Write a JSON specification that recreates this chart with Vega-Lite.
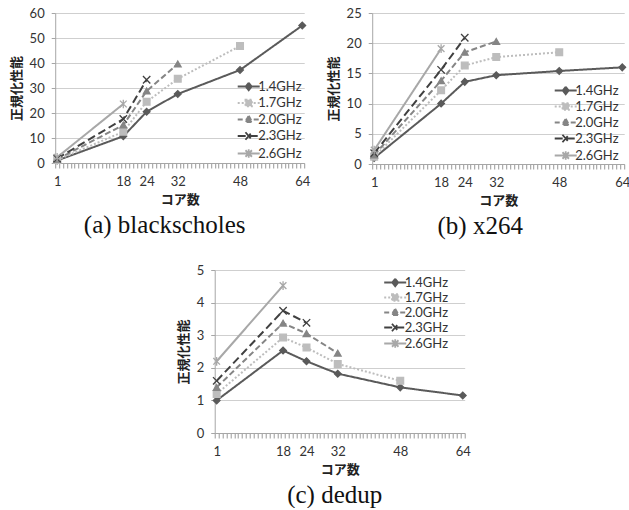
{
  "$schema": "https://vega.github.io/schema/vega-lite/v6.json",
  "padding": {"left": 10, "top": 7, "right": 0, "bottom": 0},
  "background": "white",
  "spacing": 25,
  "center": true,
  "config": {
    "view": {"stroke": null},
    "concat": {"spacing": 16},
    "axis": {
      "labelFont": "Lato", "labelFontSize": 13, "labelColor": "#333333",
      "titleFont": "Noto Sans CJK JP", "titleFontSize": 13, "titleFontWeight": "bold", "titleColor": "#222222",
      "domainColor": "#a6a6a6", "tickColor": "#a6a6a6", "gridColor": "#cfcfcf"
    },
    "title": {"font": "Liberation Serif", "fontSize": 25, "fontWeight": "normal", "color": "#111111"}
  },
  "datasets": {
    "bs": [
      {"freq": "1.4GHz", "cores": 1, "perf": 1.0}, {"freq": "1.4GHz", "cores": 18, "perf": 10.7}, {"freq": "1.4GHz", "cores": 24, "perf": 20.5}, {"freq": "1.4GHz", "cores": 32, "perf": 27.6}, {"freq": "1.4GHz", "cores": 48, "perf": 37.2}, {"freq": "1.4GHz", "cores": 64, "perf": 55.0},
      {"freq": "1.7GHz", "cores": 1, "perf": 1.2}, {"freq": "1.7GHz", "cores": 18, "perf": 12.5}, {"freq": "1.7GHz", "cores": 24, "perf": 24.5}, {"freq": "1.7GHz", "cores": 32, "perf": 33.7}, {"freq": "1.7GHz", "cores": 48, "perf": 46.8},
      {"freq": "2.0GHz", "cores": 1, "perf": 1.5}, {"freq": "2.0GHz", "cores": 18, "perf": 15.2}, {"freq": "2.0GHz", "cores": 24, "perf": 28.8}, {"freq": "2.0GHz", "cores": 32, "perf": 39.6},
      {"freq": "2.3GHz", "cores": 1, "perf": 1.8}, {"freq": "2.3GHz", "cores": 18, "perf": 17.6}, {"freq": "2.3GHz", "cores": 24, "perf": 33.3},
      {"freq": "2.6GHz", "cores": 1, "perf": 2.3}, {"freq": "2.6GHz", "cores": 18, "perf": 23.6}
    ],
    "x264": [
      {"freq": "1.4GHz", "cores": 1, "perf": 1.0}, {"freq": "1.4GHz", "cores": 18, "perf": 10.0}, {"freq": "1.4GHz", "cores": 24, "perf": 13.6}, {"freq": "1.4GHz", "cores": 32, "perf": 14.7}, {"freq": "1.4GHz", "cores": 48, "perf": 15.4}, {"freq": "1.4GHz", "cores": 64, "perf": 16.0},
      {"freq": "1.7GHz", "cores": 1, "perf": 1.2}, {"freq": "1.7GHz", "cores": 18, "perf": 12.2}, {"freq": "1.7GHz", "cores": 24, "perf": 16.3}, {"freq": "1.7GHz", "cores": 32, "perf": 17.7}, {"freq": "1.7GHz", "cores": 48, "perf": 18.5},
      {"freq": "2.0GHz", "cores": 1, "perf": 1.5}, {"freq": "2.0GHz", "cores": 18, "perf": 13.8}, {"freq": "2.0GHz", "cores": 24, "perf": 18.5}, {"freq": "2.0GHz", "cores": 32, "perf": 20.3},
      {"freq": "2.3GHz", "cores": 1, "perf": 1.8}, {"freq": "2.3GHz", "cores": 18, "perf": 15.6}, {"freq": "2.3GHz", "cores": 24, "perf": 20.9},
      {"freq": "2.6GHz", "cores": 1, "perf": 2.3}, {"freq": "2.6GHz", "cores": 18, "perf": 19.1}
    ],
    "dedup": [
      {"freq": "1.4GHz", "cores": 1, "perf": 1.0}, {"freq": "1.4GHz", "cores": 18, "perf": 2.53}, {"freq": "1.4GHz", "cores": 24, "perf": 2.2}, {"freq": "1.4GHz", "cores": 32, "perf": 1.82}, {"freq": "1.4GHz", "cores": 48, "perf": 1.4}, {"freq": "1.4GHz", "cores": 64, "perf": 1.15},
      {"freq": "1.7GHz", "cores": 1, "perf": 1.2}, {"freq": "1.7GHz", "cores": 18, "perf": 2.93}, {"freq": "1.7GHz", "cores": 24, "perf": 2.62}, {"freq": "1.7GHz", "cores": 32, "perf": 2.12}, {"freq": "1.7GHz", "cores": 48, "perf": 1.6},
      {"freq": "2.0GHz", "cores": 1, "perf": 1.4}, {"freq": "2.0GHz", "cores": 18, "perf": 3.37}, {"freq": "2.0GHz", "cores": 24, "perf": 3.05}, {"freq": "2.0GHz", "cores": 32, "perf": 2.45},
      {"freq": "2.3GHz", "cores": 1, "perf": 1.6}, {"freq": "2.3GHz", "cores": 18, "perf": 3.75}, {"freq": "2.3GHz", "cores": 24, "perf": 3.38},
      {"freq": "2.6GHz", "cores": 1, "perf": 2.2}, {"freq": "2.6GHz", "cores": 18, "perf": 4.52}
    ]
  },
  "resolve": {"legend": {"color": "independent"}},
  "vconcat": [
    {
      "hconcat": [
        {
          "width": 249, "height": 150,
          "data": {"name": "bs"},
          "title": {"text": "(a) blackscholes", "orient": "bottom", "anchor": "middle", "frame": "group", "dx": -15, "offset": 7},
          "encoding": {
            "y": {"field": "perf", "type": "quantitative", "scale": {"domain": [0, 60], "nice": false},
              "axis": {"title": "正規化性能", "values": [0,10,20,30,40,50,60], "tickSize": 4, "labelPadding": 7, "titlePadding": 6, "grid": true}},
            "color": {"field": "freq", "type": "nominal", "scale": {"domain": ["1.4GHz","1.7GHz","2.0GHz","2.3GHz","2.6GHz"], "range": ["#5a5a5a","#bdbdbd","#858585","#404040","#a8a8a8"]}, "legend": null}
          },
          "layer": [
            {
              "mark": {"type": "line", "strokeWidth": 2},
              "encoding": {
                "x": {"field": "cores", "type": "quantitative", "scale": {"domain": [0.5, 64.5], "nice": false, "zero": false},
                  "axis": {"orient": "bottom", "title": null, "labels": false, "grid": false, "ticks": true, "values": [0.5,1.5,2.5,3.5,4.5,5.5,6.5,7.5,8.5,9.5,10.5,11.5,12.5,13.5,14.5,15.5,16.5,17.5,18.5,19.5,20.5,21.5,22.5,23.5,24.5,25.5,26.5,27.5,28.5,29.5,30.5,31.5,32.5,33.5,34.5,35.5,36.5,37.5,38.5,39.5,40.5,41.5,42.5,43.5,44.5,45.5,46.5,47.5,48.5,49.5,50.5,51.5,52.5,53.5,54.5,55.5,56.5,57.5,58.5,59.5,60.5,61.5,62.5,63.5,64.5], "tickSize": 5, "tickWidth": 1, "tickColor": "#999999", "tickOpacity": 1, "domainColor": "#a6a6a6"}},
                "strokeDash": {"field": "freq", "type": "nominal", "scale": {"domain": ["1.4GHz","1.7GHz","2.0GHz","2.3GHz","2.6GHz"], "range": [[1,0],[2,2],[6,3],[8,4],[1,0]]}, "legend": null},
                "color": {"field": "freq", "type": "nominal", "legend": {"orient": "none", "legendX": 187, "legendY": 67, "title": null, "padding": 0, "rowPadding": 1.5, "symbolSize": 100, "symbolStrokeWidth": 1.8, "labelOffset": 3, "labelFont": "Lato", "labelFontSize": 13, "labelColor": "#333333",
                  "encode": {"symbols": {"update": {
                    "shape": {"signal": "datum.value==='1.4GHz'?'M-2.2,0L2.2,0M0,-0.75L0.6,0L0,0.75L-0.6,0Z':datum.value==='1.7GHz'?'M-2.2,0L2.2,0M-0.65,-0.65L0.65,-0.65L0.65,0.65L-0.65,0.65Z':datum.value==='2.0GHz'?'M-2.2,0L2.2,0M0,-0.75L0.72,0.5L-0.72,0.5Z':datum.value==='2.3GHz'?'M-2.2,0L2.2,0M-0.65,-0.75L0.65,0.75M-0.65,0.75L0.65,-0.75':'M-2.2,0L2.2,0M-0.65,-0.65L0.65,0.65M-0.65,0.65L0.65,-0.65M0,-0.85L0,0.85'"},
                    "fill": {"scale": "color", "field": "value"},
                    "strokeDash": {"signal": "datum.value==='1.7GHz'?[2,2]:datum.value==='2.0GHz'?[5,3]:datum.value==='2.3GHz'?[8,4]:[100,0]"}
                  }}}}}
              }
            },
            {
              "mark": {"type": "point", "filled": true, "size": 45, "opacity": 1, "strokeWidth": 1.3},
              "encoding": {
                "x": {"field": "cores", "type": "quantitative",
                  "axis": {"orient": "bottom", "title": "コア数", "values": [1,18,24,32,48,64], "format": "d", "ticks": false, "domain": false, "grid": false, "labelPadding": 12, "titlePadding": 5, "labelOverlap": false, "labelBound": false, "labelFlush": false}},
                "shape": {"field": "freq", "type": "nominal", "scale": {"domain": ["1.4GHz","1.7GHz","2.0GHz","2.3GHz","2.6GHz"], "range": ["diamond","square","triangle-up","M-1.1,-1.1L1.1,1.1M-1.1,1.1L1.1,-1.1","M-1,-1L1,1M-1,1L1,-1M0,-1.3L0,1.3"]}, "legend": null},
                "stroke": {"field": "freq", "type": "nominal", "scale": {"domain": ["1.4GHz","1.7GHz","2.0GHz","2.3GHz","2.6GHz"], "range": ["#5a5a5a","#bdbdbd","#858585","#404040","#a8a8a8"]}, "legend": null}
              }
            }
          ],
          "resolve": {"axis": {"x": "independent"}}
        },
        {
          "width": 252, "height": 151,
          "data": {"name": "x264"},
          "title": {"text": "(b) x264", "orient": "bottom", "anchor": "middle", "frame": "group", "dx": -18, "offset": 7},
          "encoding": {
            "y": {"field": "perf", "type": "quantitative", "scale": {"domain": [0, 25], "nice": false},
              "axis": {"title": "正規化性能", "values": [0,5,10,15,20,25], "tickSize": 4, "labelPadding": 7, "titlePadding": 6, "grid": true}},
            "color": {"field": "freq", "type": "nominal", "legend": null}
          },
          "layer": [
            {
              "mark": {"type": "line", "strokeWidth": 2},
              "encoding": {
                "x": {"field": "cores", "type": "quantitative", "scale": {"domain": [0.5, 64.5], "nice": false, "zero": false},
                  "axis": {"orient": "bottom", "title": null, "labels": false, "grid": false, "ticks": true, "values": [0.5,1.5,2.5,3.5,4.5,5.5,6.5,7.5,8.5,9.5,10.5,11.5,12.5,13.5,14.5,15.5,16.5,17.5,18.5,19.5,20.5,21.5,22.5,23.5,24.5,25.5,26.5,27.5,28.5,29.5,30.5,31.5,32.5,33.5,34.5,35.5,36.5,37.5,38.5,39.5,40.5,41.5,42.5,43.5,44.5,45.5,46.5,47.5,48.5,49.5,50.5,51.5,52.5,53.5,54.5,55.5,56.5,57.5,58.5,59.5,60.5,61.5,62.5,63.5,64.5], "tickSize": 5, "tickWidth": 1, "tickColor": "#999999", "tickOpacity": 1, "domainColor": "#a6a6a6"}},
                "strokeDash": {"field": "freq", "type": "nominal", "legend": null},
                "color": {"field": "freq", "type": "nominal", "legend": {"orient": "none", "legendX": 187, "legendY": 71, "title": null, "padding": 0, "rowPadding": 1, "symbolSize": 100, "symbolStrokeWidth": 1.8, "labelOffset": 3, "labelFont": "Lato", "labelFontSize": 13, "labelColor": "#333333",
                  "encode": {"symbols": {"update": {
                    "shape": {"signal": "datum.value==='1.4GHz'?'M-2.2,0L2.2,0M0,-0.75L0.6,0L0,0.75L-0.6,0Z':datum.value==='1.7GHz'?'M-2.2,0L2.2,0M-0.65,-0.65L0.65,-0.65L0.65,0.65L-0.65,0.65Z':datum.value==='2.0GHz'?'M-2.2,0L2.2,0M0,-0.75L0.72,0.5L-0.72,0.5Z':datum.value==='2.3GHz'?'M-2.2,0L2.2,0M-0.65,-0.75L0.65,0.75M-0.65,0.75L0.65,-0.75':'M-2.2,0L2.2,0M-0.65,-0.65L0.65,0.65M-0.65,0.65L0.65,-0.65M0,-0.85L0,0.85'"},
                    "fill": {"scale": "color", "field": "value"},
                    "strokeDash": {"signal": "datum.value==='1.7GHz'?[2,2]:datum.value==='2.0GHz'?[5,3]:datum.value==='2.3GHz'?[8,4]:[100,0]"}
                  }}}}}
              }
            },
            {
              "mark": {"type": "point", "filled": true, "size": 45, "opacity": 1, "strokeWidth": 1.3},
              "encoding": {
                "x": {"field": "cores", "type": "quantitative",
                  "axis": {"orient": "bottom", "title": "コア数", "values": [1,18,24,32,48,64], "format": "d", "ticks": false, "domain": false, "grid": false, "labelPadding": 12, "titlePadding": 5, "labelOverlap": false, "labelBound": false, "labelFlush": false}},
                "shape": {"field": "freq", "type": "nominal", "legend": null},
                "stroke": {"field": "freq", "type": "nominal", "legend": null}
              }
            }
          ],
          "resolve": {"axis": {"x": "independent"}}
        }
      ],
      "resolve": {"legend": {"color": "independent"}}
    },
    {
      "width": 250, "height": 163,
      "data": {"name": "dedup"},
      "title": {"text": "(c) dedup", "orient": "bottom", "anchor": "middle", "frame": "group", "dx": -5, "offset": 7},
      "encoding": {
        "y": {"field": "perf", "type": "quantitative", "scale": {"domain": [0, 5], "nice": false},
          "axis": {"title": "正規化性能", "values": [0,1,2,3,4,5], "tickSize": 4, "labelPadding": 7, "titlePadding": 6, "grid": true}},
        "color": {"field": "freq", "type": "nominal", "legend": null}
      },
      "layer": [
        {
          "mark": {"type": "line", "strokeWidth": 2},
          "encoding": {
            "x": {"field": "cores", "type": "quantitative", "scale": {"domain": [0.5, 64.5], "nice": false, "zero": false},
              "axis": {"orient": "bottom", "title": null, "labels": false, "grid": false, "ticks": true, "values": [0.5,1.5,2.5,3.5,4.5,5.5,6.5,7.5,8.5,9.5,10.5,11.5,12.5,13.5,14.5,15.5,16.5,17.5,18.5,19.5,20.5,21.5,22.5,23.5,24.5,25.5,26.5,27.5,28.5,29.5,30.5,31.5,32.5,33.5,34.5,35.5,36.5,37.5,38.5,39.5,40.5,41.5,42.5,43.5,44.5,45.5,46.5,47.5,48.5,49.5,50.5,51.5,52.5,53.5,54.5,55.5,56.5,57.5,58.5,59.5,60.5,61.5,62.5,63.5,64.5], "tickSize": 5, "tickWidth": 1, "tickColor": "#999999", "tickOpacity": 1, "domainColor": "#a6a6a6"}},
            "strokeDash": {"field": "freq", "type": "nominal", "legend": null},
            "color": {"field": "freq", "type": "nominal", "legend": {"orient": "none", "legendX": 174, "legendY": 6, "title": null, "padding": 0, "rowPadding": 0, "symbolSize": 100, "symbolStrokeWidth": 1.8, "labelOffset": 3, "labelFont": "Lato", "labelFontSize": 13, "labelColor": "#333333",
              "encode": {"symbols": {"update": {
                "shape": {"signal": "datum.value==='1.4GHz'?'M-2.2,0L2.2,0M0,-0.75L0.6,0L0,0.75L-0.6,0Z':datum.value==='1.7GHz'?'M-2.2,0L2.2,0M-0.65,-0.65L0.65,-0.65L0.65,0.65L-0.65,0.65Z':datum.value==='2.0GHz'?'M-2.2,0L2.2,0M0,-0.75L0.72,0.5L-0.72,0.5Z':datum.value==='2.3GHz'?'M-2.2,0L2.2,0M-0.65,-0.75L0.65,0.75M-0.65,0.75L0.65,-0.75':'M-2.2,0L2.2,0M-0.65,-0.65L0.65,0.65M-0.65,0.65L0.65,-0.65M0,-0.85L0,0.85'"},
                "fill": {"scale": "color", "field": "value"},
                "strokeDash": {"signal": "datum.value==='1.7GHz'?[2,2]:datum.value==='2.0GHz'?[5,3]:datum.value==='2.3GHz'?[8,4]:[100,0]"}
              }}}}}
          }
        },
        {
          "mark": {"type": "point", "filled": true, "size": 45, "opacity": 1, "strokeWidth": 1.3},
          "encoding": {
            "x": {"field": "cores", "type": "quantitative",
              "axis": {"orient": "bottom", "title": "コア数", "values": [1,18,24,32,48,64], "format": "d", "ticks": false, "domain": false, "grid": false, "labelPadding": 12, "titlePadding": 5, "labelOverlap": false, "labelBound": false, "labelFlush": false}},
            "shape": {"field": "freq", "type": "nominal", "legend": null},
            "stroke": {"field": "freq", "type": "nominal", "legend": null}
          }
        }
      ],
      "resolve": {"axis": {"x": "independent"}}
    }
  ]
}
